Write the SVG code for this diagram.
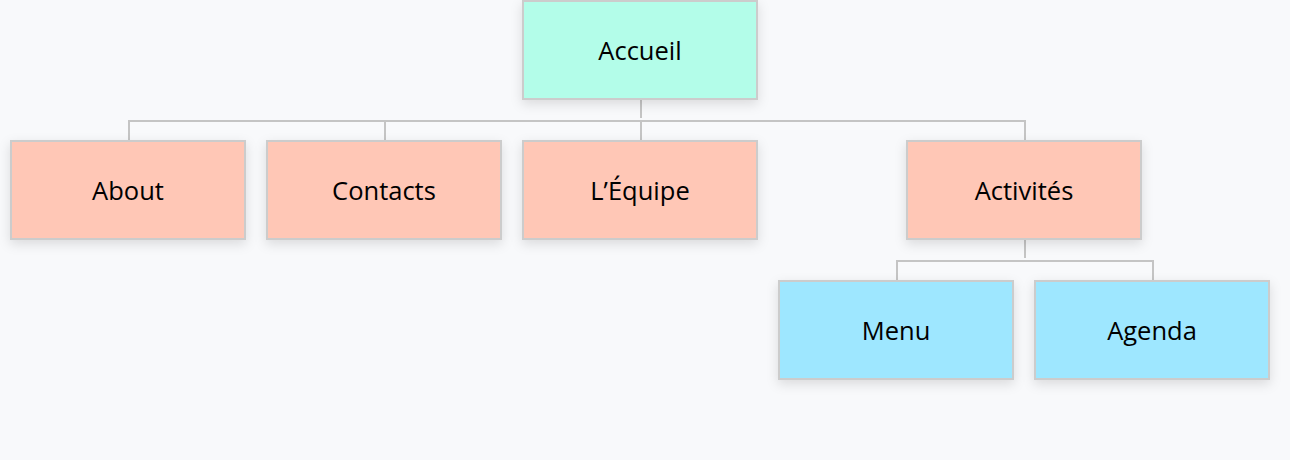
<svg xmlns="http://www.w3.org/2000/svg" width="1290" height="460" viewBox="0 0 1290 460">
<defs>
<filter id="sh" x="-20%" y="-30%" width="140%" height="170%">
<feDropShadow dx="0" dy="4" stdDeviation="6" flood-color="#000" flood-opacity="0.12"/>
</filter>
<style>
.box{stroke:#cccccc;stroke-width:2;filter:url(#sh)}
.root{fill:#b3fde9}
.l1{fill:#ffc7b6}
.l2{fill:#9ee7ff}
.t{font-family:"Open Sans","Noto Sans",sans-serif;font-size:25.5px;fill:#000;text-anchor:middle}
.c{fill:none;stroke:#c4c4c4;stroke-width:2}
</style>
</defs>
<rect width="1290" height="460" fill="#f8f9fb"/>
<g id="connectors">
<path class="c" d="M641 100V118"/>
<path class="c" d="M129 140V121H1025V140M385 121V140M641 121V140"/>
<path class="c" d="M1025 240V258"/>
<path class="c" d="M897 280V261H1153V280"/>
</g>
<g id="accueil"><rect class="box root" x="523" y="1" width="234" height="98"/><text class="t" x="640" y="60">Accueil</text></g>
<g id="about"><rect class="box l1" x="11" y="141" width="234" height="98"/><text class="t" x="128" y="200">About</text></g>
<g id="contacts"><rect class="box l1" x="267" y="141" width="234" height="98"/><text class="t" x="384" y="200">Contacts</text></g>
<g id="equipe"><rect class="box l1" x="523" y="141" width="234" height="98"/><text class="t" x="640" y="200">L’Équipe</text></g>
<g id="activites"><rect class="box l1" x="907" y="141" width="234" height="98"/><text class="t" x="1024" y="200">Activités</text></g>
<g id="menu"><rect class="box l2" x="779" y="281" width="234" height="98"/><text class="t" x="896" y="340">Menu</text></g>
<g id="agenda"><rect class="box l2" x="1035" y="281" width="234" height="98"/><text class="t" x="1152" y="340">Agenda</text></g>
</svg>
